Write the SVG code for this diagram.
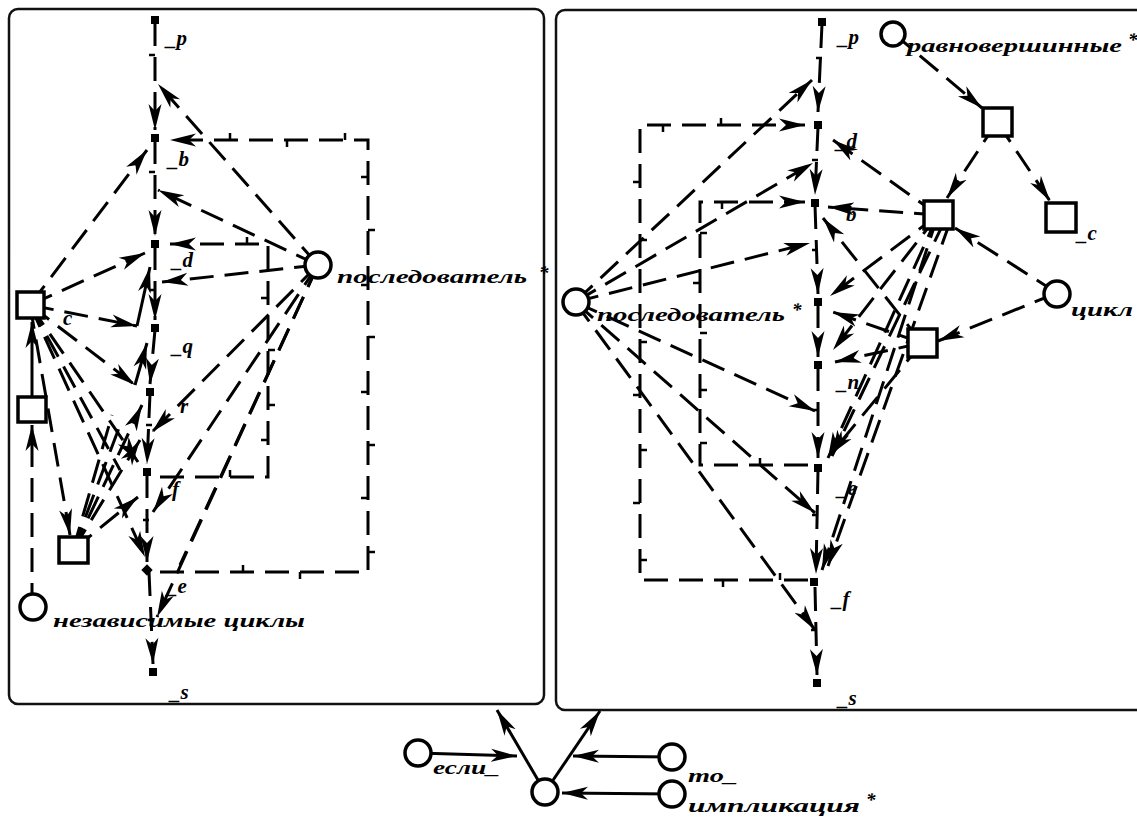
<svg xmlns="http://www.w3.org/2000/svg" width="1137" height="818" viewBox="0 0 1137 818">
<defs>
<marker id="a" markerWidth="28" markerHeight="16" refX="26" refY="8" orient="auto" markerUnits="userSpaceOnUse"><path d="M0,1.5 L26,8 L0,14.5 L7,8 z" fill="#000"/></marker>
<style>
.pn{fill:#fff;stroke:#111;stroke-width:2.5}
.d{stroke:#000;stroke-width:3;stroke-dasharray:24 11;fill:none;marker-end:url(#a)}
.dn{stroke:#000;stroke-width:3;stroke-dasharray:24 11;fill:none}
.s{stroke:#000;stroke-width:3;fill:none;marker-end:url(#a)}
.sn{stroke:#000;stroke-width:3;fill:none}
.tk{stroke:#000;stroke-width:2.5;fill:none}
.pt{fill:#000}
.sq{fill:#fff;stroke:#000;stroke-width:3.5}
.ci{fill:#fff;stroke:#000;stroke-width:3.5}
text{font-family:"Liberation Serif","DejaVu Serif",serif;font-style:italic;font-weight:bold;font-size:19px;fill:#000}
.lb{font-size:21px}
</style>
</defs>
<rect width="1137" height="818" fill="#fff"/>
<g id="panels">
<rect class="pn" x="9" y="9" width="535" height="695" rx="9"/>
<rect class="pn" x="556" y="10" width="600" height="700" rx="9"/>
</g>
<g id="connectors">
<line class="d" x1="155" y1="22" x2="155" y2="130"/>
<line class="d" x1="155" y1="140" x2="155" y2="236"/>
<line class="d" x1="155" y1="246" x2="155" y2="320"/>
<line class="d" x1="155" y1="330" x2="150" y2="384"/>
<line class="d" x1="150" y1="394" x2="147" y2="464"/>
<line class="d" x1="147" y1="474" x2="147" y2="562"/>
<line class="d" x1="149" y1="572" x2="153" y2="664"/>
<path class="d" d="M160,572 H368 V140 H170"/>
<path class="d" d="M160,477 H268 V244 H170"/>
<line class="d" x1="318" y1="265" x2="158" y2="84"/>
<line class="d" x1="318" y1="265" x2="158" y2="190"/>
<line class="d" x1="318" y1="265" x2="162" y2="282"/>
<line class="d" x1="318" y1="265" x2="152" y2="432"/>
<line class="d" x1="318" y1="265" x2="153" y2="512"/>
<line class="dn" x1="318" y1="265" x2="180" y2="565"/>
<line class="d" x1="318" y1="265" x2="157" y2="617"/>
<line class="d" x1="30" y1="305" x2="147" y2="150"/>
<line class="d" x1="30" y1="305" x2="145" y2="253"/>
<line class="d" x1="30" y1="305" x2="137" y2="326"/>
<line class="d" x1="30" y1="305" x2="135" y2="385"/>
<line class="d" x1="30" y1="305" x2="138" y2="462"/>
<line class="d" x1="30" y1="305" x2="145" y2="557"/>
<line class="d" x1="30" y1="305" x2="70" y2="535"/>
<line class="dn" x1="30" y1="305" x2="120" y2="470"/>
<line class="s" x1="137" y1="326" x2="150" y2="267"/>
<line class="s" x1="135" y1="385" x2="147" y2="343"/>
<line class="s" x1="32" y1="410" x2="32" y2="322"/>
<line class="d" x1="32" y1="607" x2="32" y2="425"/>
<line class="d" x1="73" y1="550" x2="138" y2="497"/>
<line class="d" x1="73" y1="550" x2="140" y2="440"/>
<line class="d" x1="73" y1="550" x2="142" y2="405"/>
<line class="dn" x1="73" y1="550" x2="122" y2="420"/>
<line class="dn" x1="73" y1="550" x2="112" y2="415"/>
<line class="d" x1="822" y1="24" x2="818" y2="112"/>
<line class="d" x1="818" y1="127" x2="815" y2="195"/>
<line class="d" x1="815" y1="205" x2="818" y2="294"/>
<line class="d" x1="818" y1="304" x2="818" y2="357"/>
<line class="d" x1="818" y1="367" x2="818" y2="458"/>
<line class="d" x1="818" y1="470" x2="816" y2="574"/>
<line class="d" x1="815" y1="587" x2="817" y2="675"/>
<path class="d" d="M808,580 H640 V125 H805"/>
<path class="d" d="M808,465 H700 V202 H805"/>
<line class="d" x1="575" y1="302" x2="812" y2="80"/>
<line class="d" x1="575" y1="302" x2="813" y2="163"/>
<line class="d" x1="575" y1="302" x2="810" y2="243"/>
<line class="d" x1="575" y1="302" x2="815" y2="411"/>
<line class="d" x1="575" y1="302" x2="815" y2="513"/>
<line class="d" x1="575" y1="302" x2="815" y2="630"/>
<line class="d" x1="893" y1="33" x2="982" y2="108"/>
<line class="d" x1="997" y1="122" x2="947" y2="198"/>
<line class="d" x1="997" y1="122" x2="1050" y2="201"/>
<line class="d" x1="1057" y1="293" x2="955" y2="228"/>
<line class="d" x1="1057" y1="293" x2="938" y2="341"/>
<line class="d" x1="938" y1="215" x2="833" y2="140"/>
<line class="d" x1="938" y1="215" x2="828" y2="207"/>
<line class="d" x1="938" y1="215" x2="830" y2="296"/>
<line class="d" x1="938" y1="215" x2="833" y2="350"/>
<line class="d" x1="938" y1="215" x2="828" y2="458"/>
<line class="d" x1="945" y1="220" x2="832" y2="456"/>
<line class="d" x1="938" y1="215" x2="822" y2="570"/>
<line class="d" x1="950" y1="222" x2="828" y2="566"/>
<line class="d" x1="922" y1="343" x2="833" y2="312"/>
<line class="d" x1="922" y1="343" x2="835" y2="362"/>
<line class="d" x1="922" y1="343" x2="830" y2="455"/>
<line class="d" x1="922" y1="343" x2="823" y2="218"/>
<line class="s" x1="545" y1="792" x2="497" y2="710"/>
<line class="s" x1="545" y1="792" x2="600" y2="711"/>
<line class="s" x1="418" y1="753" x2="517" y2="756"/>
<line class="s" x1="672" y1="757" x2="573" y2="756"/>
<line class="s" x1="672" y1="794" x2="562" y2="793"/>
</g>
<g id="ticks">
<path class="tk" d="M149,55 H155 M149,172 H155 M149,290 H155 M146,425 H152 M143,520 H149 M148,620 H154
M230,140 V133 M287,140 V147 M345,140 V133 M368,177 H361 M368,230 H375 M368,285 H361 M368,337 H375 M368,392 H361 M368,445 H375 M368,498 H361 M368,552 H375 M300,572 V579 M243,572 V565
M247,244 V237 M268,298 H261 M268,350 H275 M268,405 H275 M268,440 H261 M230,477 V470
M816,58 H822 M812,160 H818 M812,250 H818 M812,410 H818 M812,515 H818 M811,630 H817
M663,125 V132 M721,125 V118 M640,182 H633 M640,240 H647 M640,342 H647 M640,395 H633 M640,450 H647 M640,503 H633 M640,560 H647 M723,580 V587 M780,580 V573
M722,202 V209 M700,233 H707 M700,283 H693 M700,333 H707 M700,390 H707 M700,443 H707 M760,465 V458"/>
</g>
<g id="node-p-left"><rect class="pt" x="151" y="16" width="8" height="8"/><text class="lb" x="166" y="45">_p</text></g>
<g id="node-b-left"><rect class="pt" x="151" y="134" width="8" height="8"/><text class="lb" x="168" y="166">_b</text></g>
<g id="node-d-left"><rect class="pt" x="151" y="240" width="8" height="8"/><text class="lb" x="172" y="267">_d</text></g>
<g id="node-q-left"><rect class="pt" x="151" y="324" width="8" height="8"/><text class="lb" x="172" y="353">_q</text></g>
<g id="node-r-left"><rect class="pt" x="146" y="388" width="8" height="8"/><text class="lb" x="180" y="413">r</text></g>
<g id="node-f-left"><rect class="pt" x="143" y="468" width="8" height="8"/><text class="lb" x="172" y="496">f</text></g>
<g id="node-e-left"><rect class="pt" x="143" y="566" width="8" height="8" transform="rotate(45 147 570)"/><text class="lb" x="167" y="593">_e</text></g>
<g id="node-s-left"><rect class="pt" x="149" y="668" width="8" height="8"/><text class="lb" x="170" y="699">_s</text></g>
<g id="node-c"><rect class="sq" x="17" y="292" width="27" height="26"/><text class="lb" x="63" y="325">c</text></g>
<g id="node-sq2-left"><rect class="sq" x="18" y="397" width="28" height="25"/></g>
<g id="node-sq3-left"><rect class="sq" x="59" y="537" width="29" height="26"/></g>
<g id="node-nezavisimye"><circle class="ci" cx="33" cy="607" r="13"/><text x="53" y="627" textLength="252" lengthAdjust="spacingAndGlyphs">независимые циклы</text></g>
<g id="node-posled-left"><circle class="ci" cx="318" cy="265" r="13"/><text x="337" y="283" textLength="190" lengthAdjust="spacingAndGlyphs">последователь</text><text x="539" y="279" font-size="14">*</text></g>
<g id="node-p-right"><rect class="pt" x="818" y="18" width="8" height="8"/><text class="lb" x="838" y="44">_p</text></g>
<g id="node-d-right"><rect class="pt" x="814" y="121" width="8" height="8"/><text class="lb" x="836" y="148">_d</text></g>
<g id="node-b-right"><rect class="pt" x="811" y="199" width="8" height="8"/><text class="lb" x="846" y="221">b</text></g>
<g id="node-x-right"><rect class="pt" x="814" y="298" width="8" height="8"/></g>
<g id="node-n-right"><rect class="pt" x="814" y="361" width="8" height="8"/><text class="lb" x="837" y="389">_n</text></g>
<g id="node-e-right"><rect class="pt" x="814" y="464" width="8" height="8"/><text class="lb" x="837" y="495">_e</text></g>
<g id="node-f-right"><rect class="pt" x="810" y="578" width="8" height="8"/><text class="lb" x="832" y="606">_f</text></g>
<g id="node-s-right"><rect class="pt" x="813" y="679" width="8" height="8"/><text class="lb" x="838" y="705">_s</text></g>
<g id="node-posled-right"><circle class="ci" cx="576" cy="302" r="13"/><text x="597" y="321" textLength="188" lengthAdjust="spacingAndGlyphs">последователь</text><text x="792" y="316" font-size="14">*</text></g>
<g id="node-ravnoversh"><circle class="ci" cx="893" cy="34" r="12"/><text x="907" y="52" textLength="215" lengthAdjust="spacingAndGlyphs">равновершинные</text><text x="1128" y="46" font-size="14">*</text></g>
<g id="node-sq1-right"><rect class="sq" x="983" y="108" width="29" height="28"/></g>
<g id="node-sq2-right"><rect class="sq" x="924" y="201" width="29" height="28"/></g>
<g id="node-c-right"><rect class="sq" x="1046" y="203" width="30" height="29"/><text class="lb" x="1077" y="240">_c</text></g>
<g id="node-sq3-right"><rect class="sq" x="908" y="329" width="29" height="28"/></g>
<g id="node-cikl"><circle class="ci" cx="1057" cy="294" r="13"/><text x="1071" y="316" textLength="62" lengthAdjust="spacingAndGlyphs">цикл</text></g>
<g id="node-impl-center"><circle class="ci" cx="545" cy="792" r="13"/></g>
<g id="node-esli"><circle class="ci" cx="418" cy="753" r="13"/><text x="433" y="774" textLength="67" lengthAdjust="spacingAndGlyphs">если_</text></g>
<g id="node-to"><circle class="ci" cx="672" cy="757" r="13"/><text x="688" y="782" textLength="50" lengthAdjust="spacingAndGlyphs">то_</text></g>
<g id="node-implikacia"><circle class="ci" cx="672" cy="794" r="13"/><text x="688" y="812" textLength="172" lengthAdjust="spacingAndGlyphs">импликация</text><text x="866" y="806" font-size="14">*</text></g>
</svg>
